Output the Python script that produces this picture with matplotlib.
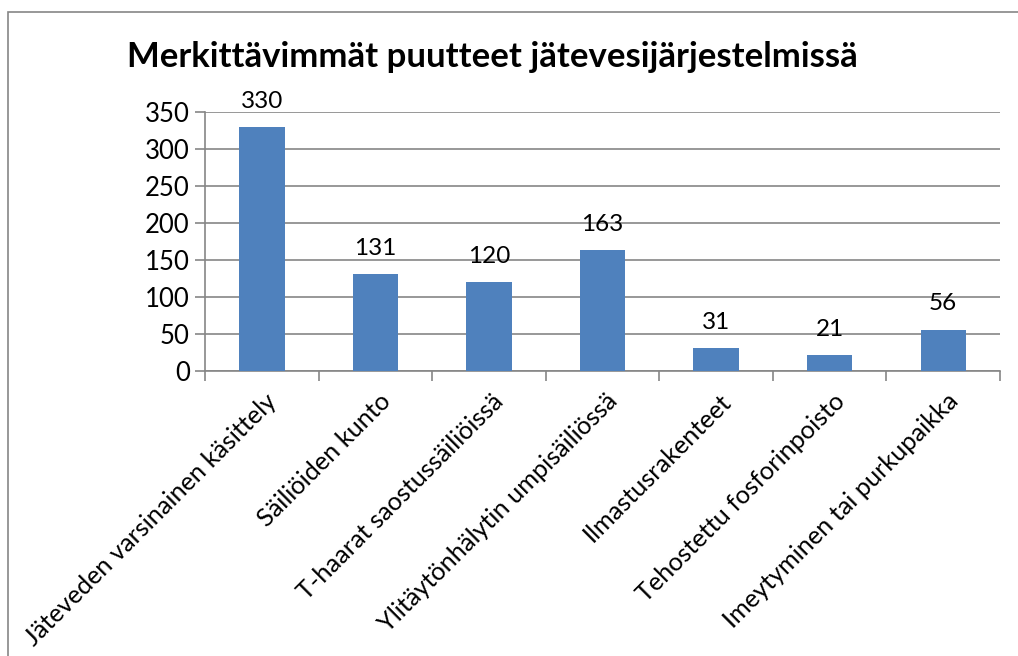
import matplotlib

matplotlib.use("Agg")
import matplotlib.pyplot as plt
from matplotlib.patches import Rectangle

categories = [
    "Jäteveden varsinainen käsittely",
    "Säiliöiden kunto",
    "T-haarat saostussäiliöissä",
    "Ylitäytönhälytin umpisäiliössä",
    "Ilmastusrakenteet",
    "Tehostettu fosforinpoisto",
    "Imeytyminen tai purkupaikka",
]
values = [330, 131, 120, 163, 31, 21, 56]
yticks = [0, 50, 100, 150, 200, 250, 300, 350]
title = "Merkittävimmät puutteet jätevesijärjestelmissä"

bar_color = "#4F81BD"
grid_color = "#868686"

plt.rcParams["font.family"] = ["Lato", "DejaVu Sans"]

fig = plt.figure(figsize=(10.18, 6.56), dpi=100)
W, H = 1018, 656
ax = fig.add_axes([205 / W, 1 - 371 / H, (1000 - 205) / W, (371 - 112) / H])

x = list(range(len(categories)))
ax.bar(x, values, width=0.4, color=bar_color, zorder=3)
for xi, v in zip(x, values):
    ax.annotate(str(v), xy=(xi, v), xytext=(0, 11), textcoords="offset points",
                ha="center", va="bottom", fontsize=17.5, color="black",
                annotation_clip=False)

ax.set_xlim(-0.5, len(categories) - 0.5)
ax.set_ylim(0, 350)
ax.set_yticks(yticks)
ax.set_yticklabels([str(t) for t in yticks], fontsize=18.5)
ax.yaxis.grid(True, color=grid_color, linewidth=1.2, zorder=0)
ax.tick_params(axis="y", length=7, width=1.2, color=grid_color, pad=4)

ax.set_xticks([i - 0.5 for i in range(len(categories) + 1)])
ax.set_xticklabels([])
ax.tick_params(axis="x", length=7, width=1.2, color=grid_color)
for xi, name in zip(x, categories):
    ax.annotate(name, xy=(xi, 0), xycoords=("data", "axes fraction"),
                xytext=(8, -19), textcoords="offset points",
                rotation=45, rotation_mode="anchor", ha="right", va="center",
                fontsize=18.2)

for side in ["top", "right"]:
    ax.spines[side].set_visible(False)
for side in ["left", "bottom"]:
    ax.spines[side].set_color(grid_color)
    ax.spines[side].set_linewidth(1.2)

fig.text(127 / W, 1 - 57 / H, title, fontsize=25, fontweight="bold",
         ha="left", va="center")

border = Rectangle((8 / W, -0.05), 1.1, 1 - 12 / H + 0.05, transform=fig.transFigure,
                   fill=False, edgecolor="#868686", linewidth=1.2)
fig.patches.append(border)

fig.savefig("out.png", dpi=100)
